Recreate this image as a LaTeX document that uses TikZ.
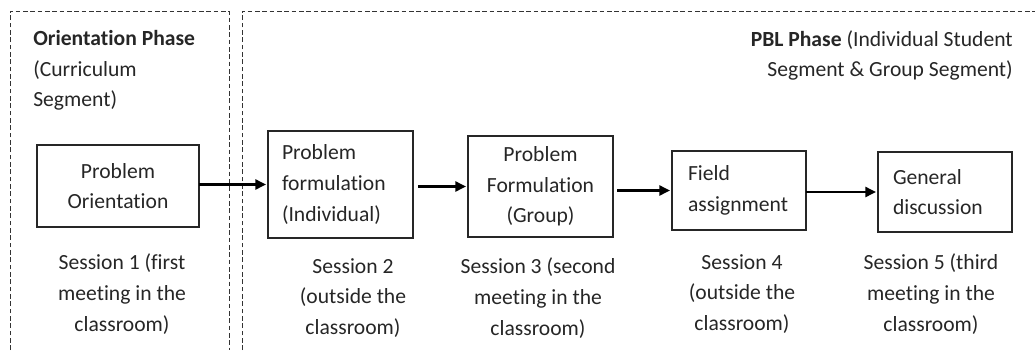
\documentclass[tikz,border=0pt]{standalone}
\usepackage{fontspec}
\setmainfont{Carlito}[Ligatures=NoCommon]
\usetikzlibrary{positioning}
\usetikzlibrary{arrows.meta}

\begin{document}
\begin{tikzpicture}[x=0.75pt,y=-0.75pt,font=\fontsize{16.2}{23}\selectfont,text=black!85,
    base/.style={draw=black!85,line width=0.8pt,inner sep=0pt,outer sep=0pt},
    mid/.style={base,align=center},
    flush/.style={base,align=left},
    sess/.style={align=center,inner sep=0pt},
    phase/.style={inner sep=0pt},
    frame/.style={draw=black!80,line width=0.65pt,dash pattern=on 3.5pt off 2pt},
    arr/.style={-{Triangle[length=8pt,width=7.5pt]},line width=1.8pt,shorten >=1.5pt}]
    \useasboundingbox (0,0) rectangle (1035,350);
    %
    \draw[frame] (10,350) |- (229,11) -- (229,350);
    \draw[frame] (242,350) |- (1035,11);
    %
    \node[phase,align=left,anchor=north west](op) at (33,30){\textbf{Orientation Phase}\\(Curriculum\\Segment)};
    \node[phase,align=right,anchor=north east](pp) at (1013,30){\textbf{PBL Phase} (Individual Student\\Segment \& Group Segment)};
    %
    \node[mid,minimum width=121.5pt,minimum height=61.5pt](a) at (118,186){Problem\\Orientation};
    \node[flush,text width=87.75pt,inner xsep=10.5pt,minimum height=80.25pt](b) at (340.5,184.5){Problem\\formulation\\(Individual)};
    \node[mid,minimum width=108.75pt,minimum height=75.75pt](c) at (540.5,186.5){Problem\\Formulation\\(Group)};
    \node[flush,text width=76.5pt,inner xsep=12pt,minimum height=59.25pt](d) at (739,190.5){Field\\assignment};
    \node[flush,text width=78pt,inner xsep=11.25pt,minimum height=60pt](e) at (945,192){General\\discussion};
    %
    \draw[arr] (a.east |- b.west) -- (b.west);
    \draw[arr,shorten <=4pt] (b.east |- c.west) -- (c.west);
    \draw[arr,shorten <=3pt] (c.east |- d.west) -- (d.west);
    \draw[arr] (d.east |- e.west) -- (e.west);
    %
    \node[sess](sa) at (122,294){Session 1 (first\\meeting in the\\classroom)};
    \node[sess](sb) at (353,298){Session 2\\(outside the\\classroom)};
    \node[sess](sc) at (538,298){Session 3 (second\\meeting in the\\classroom)};
    \node[sess](sd) at (742,294){Session 4\\(outside the\\classroom)};
    \node[sess](se) at (931,294){Session 5 (third\\meeting in the\\classroom)};
    %
\end{tikzpicture}
\end{document}
